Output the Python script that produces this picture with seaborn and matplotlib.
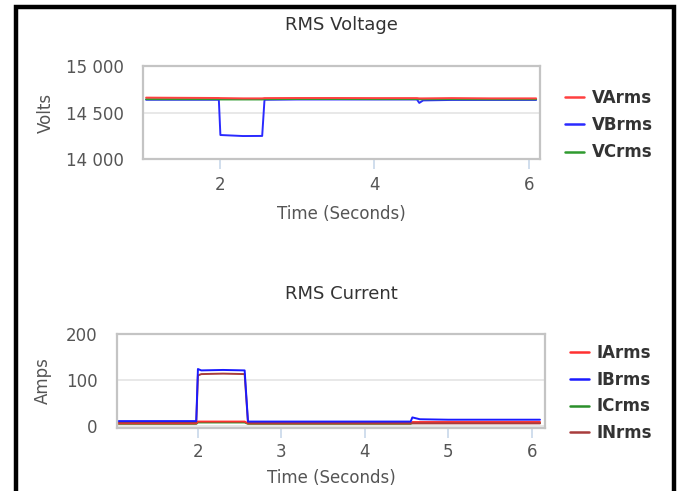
import matplotlib
matplotlib.use("Agg")
import matplotlib.pyplot as plt
import matplotlib.patches as mpatches
import pandas as pd
import seaborn as sns

# ---------------- data ----------------
time_v = [1.05, 1.5, 1.99, 2.01, 2.3, 2.55, 2.58, 3.0, 3.5, 4.0, 4.55, 4.58, 4.63, 5.0, 5.5, 6.09]
varms = [14660, 14658, 14656, 14655, 14652, 14652, 14655, 14656, 14656, 14655, 14655, 14652, 14652, 14655, 14652, 14652]
vbrms = [14637, 14637, 14637, 14258, 14247, 14248, 14637, 14640, 14640, 14640, 14640, 14603, 14630, 14635, 14635, 14635]
vcrms = [14643, 14643, 14643, 14640, 14640, 14640, 14643, 14645, 14645, 14644, 14644, 14642, 14642, 14643, 14642, 14642]
volt_names = ["VArms", "VBrms", "VCrms"]

time_i = [1.05, 1.98, 2.0, 2.04, 2.3, 2.56, 2.6, 3.5, 4.55, 4.57, 4.66, 5.0, 6.1]
iarms = [6, 6, 10, 10, 10, 10, 6, 6, 6, 9, 9, 9, 9]
ibrms = [11, 11, 124, 121, 122, 121, 10, 10, 10, 19, 15, 14, 14]
icrms = [5, 5, 8, 8, 8, 8, 5, 5, 5, 7, 7, 7, 7]
inrms = [8, 8, 110, 113, 114, 113, 7, 7, 7, 6, 6, 6, 6]
curr_names = ["IArms", "IBrms", "ICrms", "INrms"]

volt_ticks = [14000, 14500, 15000]
volt_ticklabels = ["14 000", "14 500", "15 000"]
volt_xticks = [2, 4, 6]
curr_ticks = [0, 100, 200]
curr_xticks = [2, 3, 4, 5, 6]

volt_colors = {"VArms": "#ff4040", "VBrms": "#2a2aff", "VCrms": "#2f9a2f"}
curr_colors = {"IArms": "#ff3030", "IBrms": "#1a1aff", "ICrms": "#2a8f2a", "INrms": "#a83c3c"}

dv = pd.DataFrame({
    "Time": time_v * 3,
    "Value": varms + vbrms + vcrms,
    "Series": sum([[n] * len(time_v) for n in volt_names], []),
})
di = pd.DataFrame({
    "Time": time_i * 4,
    "Value": iarms + ibrms + icrms + inrms,
    "Series": sum([[n] * len(time_i) for n in curr_names], []),
})

sns.set_theme(style="white")
plt.rcParams['font.family'] = ['DejaVu Sans']

fig = plt.figure(figsize=(6.8, 4.91), dpi=100)
W, H = 680.0, 491.0

def axrect(l, t, r, b):
    return [l / W, 1 - b / H, (r - l) / W, (b - t) / H]

ax1 = fig.add_axes(axrect(143, 66, 540, 159))
ax2 = fig.add_axes(axrect(117, 334, 545, 428))

sns.lineplot(data=dv, x="Time", y="Value", hue="Series", hue_order=["VBrms", "VCrms", "VArms"],
             palette=volt_colors, ax=ax1, linewidth=1.4, estimator=None, sort=False)
sns.lineplot(data=di, x="Time", y="Value", hue="Series", hue_order=["ICrms", "IArms", "INrms", "IBrms"],
             palette=curr_colors, ax=ax2, linewidth=1.4, estimator=None, sort=False)

text_col = "#555555"
fs = 12
for ax in (ax1, ax2):
    ax.set_axisbelow(True)
    ax.yaxis.grid(True, color="#e4e4e4", linewidth=1.2)
    ax.xaxis.grid(False)
    for s in ax.spines.values():
        s.set_color("#c4c4c4")
        s.set_linewidth(1.6)
    ax.tick_params(axis="y", length=0, pad=14, labelsize=fs, labelcolor=text_col, left=False)
    ax.get_legend().remove()

ax1.tick_params(axis="x", length=7, width=1.2, color="#c8d8ea", pad=5,
                labelsize=fs, labelcolor=text_col, bottom=True)
ax2.tick_params(axis="x", length=7, width=1.2, color="#c8d8ea", pad=3.5,
                labelsize=fs, labelcolor=text_col, bottom=True)

ax1.set_xlim(1.01, 6.14)
ax1.set_ylim(14000, 15000)
ax1.set_yticks(volt_ticks)
ax1.set_yticklabels(volt_ticklabels)
ax1.set_xticks(volt_xticks)
ax1.set_ylabel("Volts", fontsize=fs, color=text_col, labelpad=8)
ax1.set_xlabel("Time (Seconds)", fontsize=fs, color=text_col, labelpad=8)

ax2.set_xlim(1.03, 6.16)
ax2.set_ylim(-4, 200)
ax2.set_yticks(curr_ticks)
ax2.set_xticks(curr_xticks)
ax2.set_ylabel("Amps", fontsize=fs, color=text_col, labelpad=10)
ax2.set_xlabel("Time (Seconds)", fontsize=fs, color=text_col, labelpad=6)

fig.text(341 / W, 1 - 25 / H, "RMS Voltage", ha="center", va="center", fontsize=13, color="#333333")
fig.text(341 / W, 1 - 294 / H, "RMS Current", ha="center", va="center", fontsize=13, color="#333333")

def make_legend(names, colors, x, y, spacing):
    handles = [plt.Line2D([], [], color=colors[n], linewidth=1.8) for n in names]
    leg = fig.legend(handles, names, loc="upper left", bbox_to_anchor=(x / W, 1 - y / H),
                     frameon=False, fontsize=fs, handlelength=1.15, handletextpad=0.45,
                     labelspacing=spacing, borderaxespad=0, borderpad=0)
    for t in leg.get_texts():
        t.set_color("#333333")
        t.set_fontweight("bold")
    return leg

make_legend(volt_names, volt_colors, 565, 89, 0.55)
make_legend(curr_names, curr_colors, 570, 344, 0.52)

fig.add_artist(mpatches.Rectangle((16 / W, -0.05), (674 - 16) / W, 1.05 - 7 / H,
                                  transform=fig.transFigure, fill=False,
                                  edgecolor="black", linewidth=3.2))

fig.savefig("out.png", dpi=100)
